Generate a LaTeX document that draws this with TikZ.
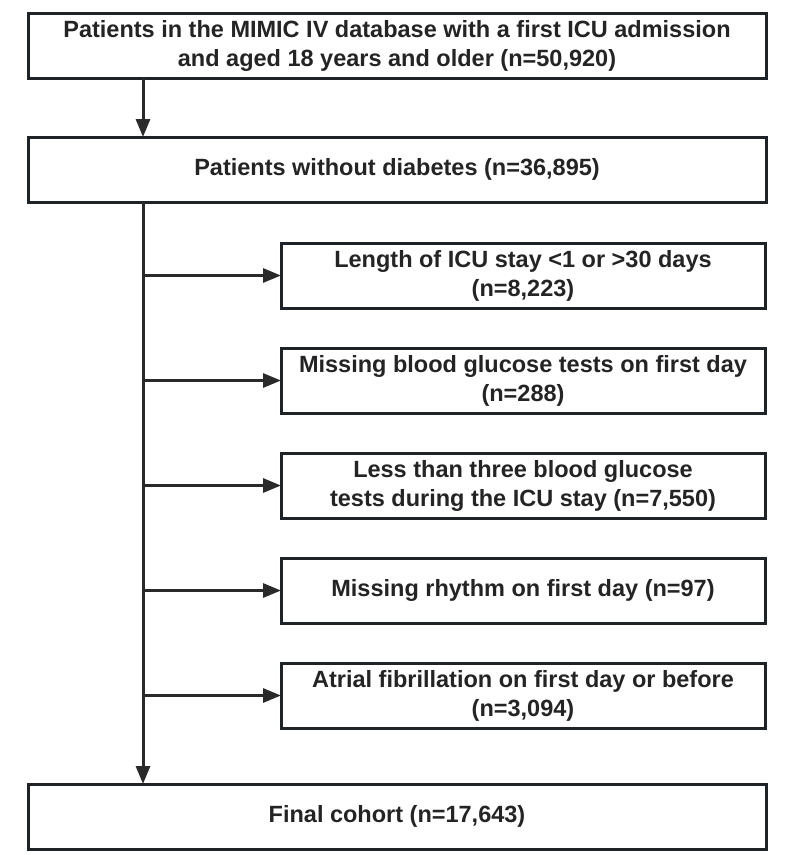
\documentclass[tikz,border=0pt]{standalone}
\usepackage{fontspec}
\setmainfont{Liberation Sans}
\usetikzlibrary{%
	calc,%
	arrows.meta,%
	positioning,%
}
\definecolor{cline}{RGB}{42, 42, 42}
\definecolor{cborder}{RGB}{30, 35, 40}
\definecolor{ctext}{RGB}{36, 36, 36}
\tikzset{
	>={Triangle[length=18pt, width=14pt]},%
	nodes={align=center},%
	mainbox/.style={%
			draw=cborder,%
			rectangle,%
			line width=3pt,%
			minimum width=738pt,%
			minimum height=65pt,%
			outer sep=0pt,%
			fill=white},%
	exclbox/.style={%
			draw=cborder,%
			rectangle,%
			line width=3pt,%
			minimum width=484pt,%
			minimum height=65pt,%
			outer sep=0pt,%
			fill=white},%
	flow/.style={%
			->,%
			line width=3pt,%
			draw=cline},%
}

\begin{document}
\begin{tikzpicture}[nodes={font={\fontsize{23.5}{29}\selectfont\bfseries}, text=ctext}]%
	\useasboundingbox (0,0) rectangle (797pt,-855pt);

	\node[mainbox] (mimic) at (397pt,-45.5pt) {Patients in the MIMIC IV database with a first ICU admission\\and aged 18 years and older (n=50,920)};
	\node[mainbox] (nodiab) [below=59pt of mimic] {Patients without diabetes (n=36,895)};

	\node[exclbox] (los) [below right=41pt and 253pt of nodiab.south west] {Length of ICU stay <1 or >30 days\\(n=8,223)};
	\node[exclbox] (noglu) [below=40pt of los] {Missing blood glucose tests on first day\\(n=288)};
	\node[exclbox] (fewglu) [below=40pt of noglu] {Less than three blood glucose\\tests during the ICU stay (n=7,550)};
	\node[exclbox] (norhy) [below=40pt of fewglu] {Missing rhythm on first day (n=97)};
	\node[exclbox] (af) [below=40pt of norhy] {Atrial fibrillation on first day or before\\(n=3,094)};

	\node[mainbox] (final) [below=582pt of nodiab] {Final cohort (n=17,643)};

	\coordinate (spine) at ($(nodiab.south west)+(115pt,0)$);

	\draw[flow] (spine |- mimic.south) to (spine |- nodiab.north);
	\draw[flow] (spine) to (spine |- final.north);
	\draw[flow] (spine |- los.west) to (los.west);
	\draw[flow] (spine |- noglu.west) to (noglu.west);
	\draw[flow] (spine |- fewglu.west) to (fewglu.west);
	\draw[flow] (spine |- norhy.west) to (norhy.west);
	\draw[flow] (spine |- af.west) to (af.west);
\end{tikzpicture}
\end{document}
